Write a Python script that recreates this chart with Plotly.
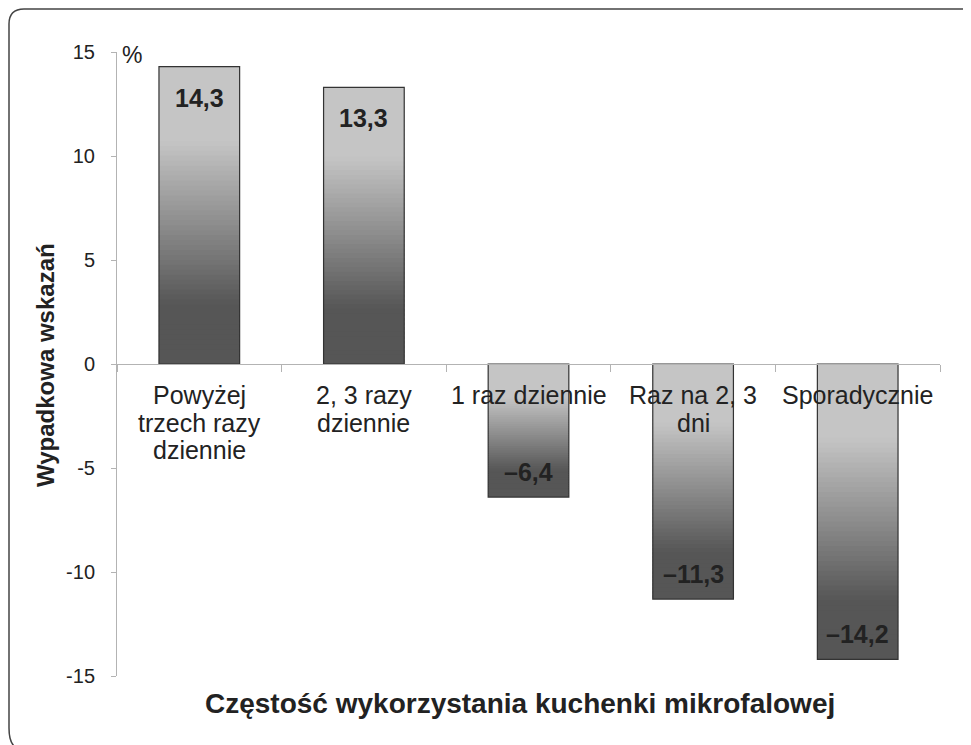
import plotly.graph_objects as go

categories = ["Powyżej<br>trzech razy<br>dziennie", "2, 3 razy<br>dziennie",
              "1 raz dziennie", "Raz na 2, 3<br>dni", "Sporadycznie"]
values = [14.3, 13.3, -6.4, -11.3, -14.2]
value_labels = ["14,3", "13,3", "–6,4", "–11,3", "–14,2"]
y_ticks = [-15, -10, -5, 0, 5, 10, 15]
y_ticktext = ["-15", "-10", "-5", "0", "5", "10", "15"]

# page offset (html body margin)
OFF = 8
W, H = 971 - OFF, 745 - OFF
L, R, T, B = 117 - OFF, 31, 52 - OFF, 69


def px(x, y):
    # page pixel -> paper coords
    x, y = x - OFF, y - OFF
    return (x - L) / (W - L - R), (H - B - y) / (H - T - B)


def grey(t):
    # light at top of the bar, dark towards the bottom
    light, dark = 197, 86
    if t < 0.25:
        v = light
    elif t > 0.8:
        v = dark
    else:
        v = light + (dark - light) * (t - 0.25) / 0.55
    v = int(round(v))
    return f"rgb({v},{v},{v})"


fig = go.Figure()

N = 60
for i in range(N):
    bases, heights = [], []
    for v in values:
        top = max(v, 0)
        h = abs(v)
        ov = h / N * 0.6 if i < N - 1 else 0
        bases.append(top - h * (i + 1) / N - ov)
        heights.append(h / N + ov)
    fig.add_trace(go.Bar(x=categories, y=heights, base=bases, width=0.49,
                         marker=dict(color=grey((i + 0.5) / N), line=dict(width=0)),
                         hoverinfo="skip", showlegend=False))

# outline
fig.add_trace(go.Bar(x=categories, y=values, width=0.49,
                     marker=dict(color="rgba(0,0,0,0)", line=dict(color="#333333", width=1.2)),
                     showlegend=False))

for c, v, lab in zip(categories, values, value_labels):
    fig.add_annotation(x=c, y=v, text=f"<b>{lab}</b>", showarrow=False,
                       yanchor="top" if v > 0 else "bottom",
                       yshift=-15 if v > 0 else 9,
                       font=dict(size=25, color="#222222"))

# category labels under the zero line, tight line spacing
for c in categories:
    for j, line in enumerate(c.split("<br>")):
        fig.add_annotation(x=c, y=0, text=line, showarrow=False,
                           yanchor="middle", yshift=-(31 + 27.5 * j),
                           font=dict(size=25, color="#222222"))

fig.add_annotation(x=px(120, 0)[0], y=px(0, 55)[1], xref="paper", yref="paper",
                   text="%", showarrow=False, xanchor="left", yanchor="middle",
                   font=dict(size=23, color="#222222"))
fig.add_annotation(x=px(45, 0)[0], y=px(0, 365)[1], xref="paper", yref="paper",
                   xanchor="center", yanchor="middle",
                   text="<b>Wypadkowa wskazań</b>", textangle=-90, showarrow=False,
                   font=dict(size=24, color="#222222",
                             family="Liberation Sans Narrow, Liberation Sans, Arial"))
fig.add_annotation(x=px(520, 0)[0], y=px(0, 703)[1], xref="paper", yref="paper",
                   xanchor="center", yanchor="middle",
                   text="<b>Częstość wykorzystania kuchenki mikrofalowej</b>", showarrow=False,
                   font=dict(size=28, color="#222222",
                             family="Liberation Sans Narrow, Liberation Sans, Arial"))

# rounded frame (open on right and bottom, as cropped)
pts = [px(975, 9), px(24, 9), px(9, 9), px(9, 24), px(9, 728), px(9, 741), px(14, 746)]
path = ("M {0[0]},{0[1]} L {1[0]},{1[1]} Q {2[0]},{2[1]} {3[0]},{3[1]} "
        "L {4[0]},{4[1]} Q {5[0]},{5[1]} {6[0]},{6[1]}").format(*pts)
fig.add_shape(type="path", path=path, xref="paper", yref="paper",
              line=dict(color="#444444", width=1.5))

fig.update_layout(
    width=W, height=H, barmode="overlay",
    margin=dict(l=L, r=R, t=T, b=B),
    plot_bgcolor="white", paper_bgcolor="white",
    font=dict(family="Liberation Sans, Arial", color="#222222"),
    xaxis=dict(anchor="free", position=0.5, showline=True, linecolor="#b3b3b3",
               ticks="outside", tickson="boundaries", ticklen=7, tickcolor="#b3b3b3",
               showticklabels=False, showgrid=False, zeroline=False),
    yaxis=dict(range=[-15, 15], tickvals=y_ticks, ticktext=y_ticktext,
               showline=True, linecolor="#b3b3b3",
               ticks="outside", ticklen=5, tickcolor="#b3b3b3", tickfont=dict(size=20),
               showgrid=False, zeroline=False, ticklabelstandoff=12),
)

fig.write_html("out.html")
